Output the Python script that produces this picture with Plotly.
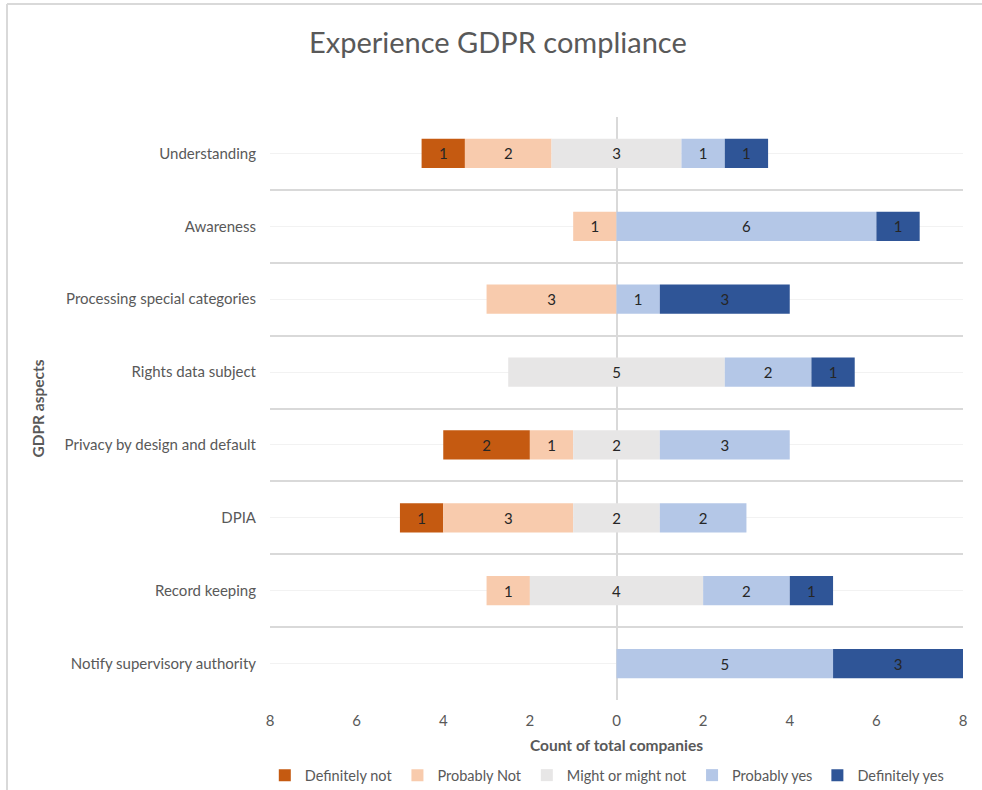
import plotly.graph_objects as go

categories = ["Understanding", "Awareness", "Processing special categories",
              "Rights data subject", "Privacy by design and default", "DPIA",
              "Record keeping", "Notify supervisory authority"]
series_names = ["Definitely not", "Probably Not", "Might or might not",
                "Probably yes", "Definitely yes"]
definitely_not = [1, 0, 0, 0, 2, 1, 0, 0]
probably_not = [2, 1, 3, 0, 1, 3, 1, 0]
might_or_might_not = [3, 0, 0, 5, 2, 2, 4, 0]
probably_yes = [1, 6, 1, 2, 3, 2, 2, 5]
definitely_yes = [1, 1, 3, 1, 0, 0, 1, 3]
x_ticks = [-8, -6, -4, -2, 0, 2, 4, 6, 8]

colors = ["#C55A11", "#F8CBAD", "#E7E6E6", "#B4C7E7", "#2F5597"]

# diverging bases: neutral split across zero
n = len(categories)
idx = list(range(n))
base_dn, base_pn, base_m, base_py, base_dy = [], [], [], [], []
for i in range(n):
    half = might_or_might_not[i] / 2
    base_m.append(-half)
    base_pn.append(-half - probably_not[i])
    base_dn.append(-half - probably_not[i] - definitely_not[i])
    base_py.append(half)
    base_dy.append(half + probably_yes[i])

series = [definitely_not, probably_not, might_or_might_not, probably_yes, definitely_yes]
bases = [base_dn, base_pn, base_m, base_py, base_dy]

fig = go.Figure()
for name, vals, base, col in zip(series_names, series, bases, colors):
    fig.add_trace(go.Bar(
        name=name, orientation="h", y=idx, x=vals, base=base,
        width=0.4, marker=dict(color=col, line=dict(width=0)),
        text=[str(v) if v else "" for v in vals],
        textposition="inside", insidetextanchor="middle",
        textfont=dict(color="#262626", size=15, family="Lato"),
        textangle=0, constraintext="none",
    ))

fig.update_layout(
    barmode="overlay",
    width=982, height=790,
    margin=dict(l=270, r=19, t=117, b=90, autoexpand=False),
    paper_bgcolor="white", plot_bgcolor="white",
    font=dict(family="Lato", color="#595959", size=15),
    title=dict(text="Experience GDPR compliance", x=0.507, xanchor="center",
               y=1 - 43 / 790, yanchor="middle", yref="container",
               font=dict(size=29, color="#595959", family="Lato")),
    showlegend=True,
    legend=dict(orientation="h", x=0.486, xanchor="center", y=-0.129, yanchor="middle",
                traceorder="normal", font=dict(size=14.5, color="#595959"),
                itemwidth=30),
    xaxis=dict(range=[-8, 8], tickvals=x_ticks, ticktext=[str(abs(t)) for t in x_ticks],
               showgrid=False, zeroline=True, zerolinecolor="#D9D9D9", zerolinewidth=2,
               showline=False, ticks="", ticklabelstandoff=10,
               tickfont=dict(size=15, color="#595959"),
               title=dict(text="<b>Count of total companies</b>", standoff=12,
                          font=dict(size=15.5, color="#595959"))),
    yaxis=dict(range=[n - 0.5, -0.5], tickvals=idx, ticktext=categories,
               showgrid=True, gridcolor="#F2F2F2", gridwidth=1, zeroline=False,
               ticks="", ticklabelstandoff=13,
               tickfont=dict(size=15, color="#595959"),
               minor=dict(tickvals=[i - 0.5 for i in range(n + 1)], showgrid=True,
                          gridcolor="#D9D9D9", gridwidth=1.5, ticks=""),
               title=dict(text="<b>GDPR aspects</b>", standoff=16,
                          font=dict(size=15.5, color="#595959"))),
)

# chart outer border (top and left edges visible)
fig.add_shape(type="line", xref="paper", yref="paper", x0=(7 - 270) / 693, x1=1.05,
              y0=(700 - 4) / 583, y1=(700 - 4) / 583,
              line=dict(color="#D9D9D9", width=2))
fig.add_shape(type="line", xref="paper", yref="paper", x0=(7 - 270) / 693, x1=(7 - 270) / 693,
              y0=(700 - 4) / 583, y1=-0.2,
              line=dict(color="#D9D9D9", width=2))

fig.write_html("out.html")
